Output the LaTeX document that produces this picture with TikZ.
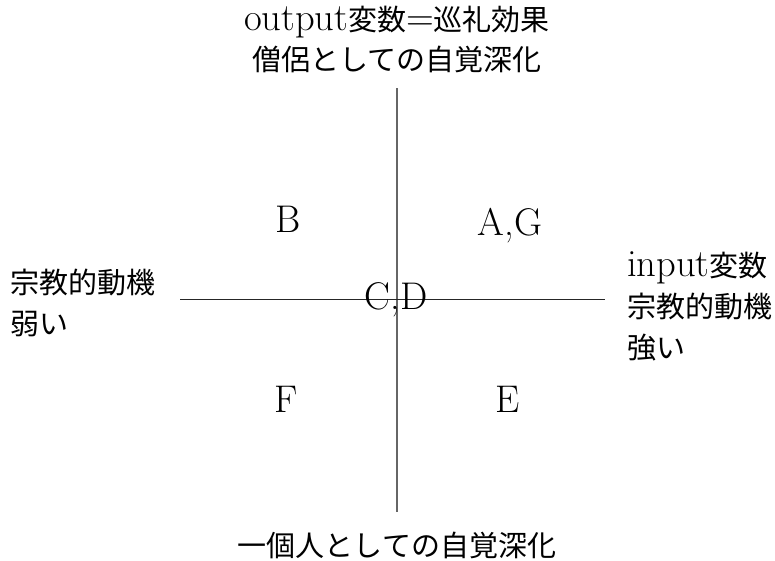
\documentclass[tikz,border=0pt]{standalone}
\usepackage{fontspec}
\setmainfont[Scale=1.33]{Latin Modern Roman}
\newfontfamily\cjk{Noto Sans CJK JP}
\begin{document}
\begin{tikzpicture}[x=1pt,y=-1pt,
  lbl/.style={font=\fontsize{29}{40}\selectfont, inner sep=0pt, align=center},
  lbll/.style={font=\fontsize{29}{41}\selectfont, inner sep=0pt, align=left},
  quad/.style={font=\fontsize{29}{36}\selectfont, inner sep=0pt},
  vax/.style={line width=1.3pt, black!60},
  hax/.style={line width=1pt, black!85}]
\useasboundingbox (0,0) rectangle (775,560);
\coordinate (top) at (397,88);
\coordinate (bot) at (397,512);
\coordinate (lft) at (180,299);
\coordinate (rgt) at (605,299);
\draw[vax] (top) -- (bot);
\draw[hax] (lft) -- (rgt);
\node[lbl] (ttl) at (397,39) {output{\cjk 変数}={\cjk 巡礼効果}\\{\cjk 僧侶としての自覚深化}};
\node[lbl] (btm) at (397,545) {{\cjk 一個人としての自覚深化}};
\node[lbll, anchor=west] (wl) at (10,303) {{\cjk 宗教的動機}\\{\cjk 弱い}};
\node[lbll, anchor=west] (el) at (627,306) {input{\cjk 変数}\\{\cjk 宗教的動機}\\{\cjk 強い}};
\node[quad] (qb) at (288,219) {B};
\node[quad] (qag) at (510,226) {A,G};
\node[quad] (qcd) at (396,300) {C,D};
\node[quad] (qf) at (286,399) {F};
\node[quad] (qe) at (508,399) {E};
\end{tikzpicture}
\end{document}
